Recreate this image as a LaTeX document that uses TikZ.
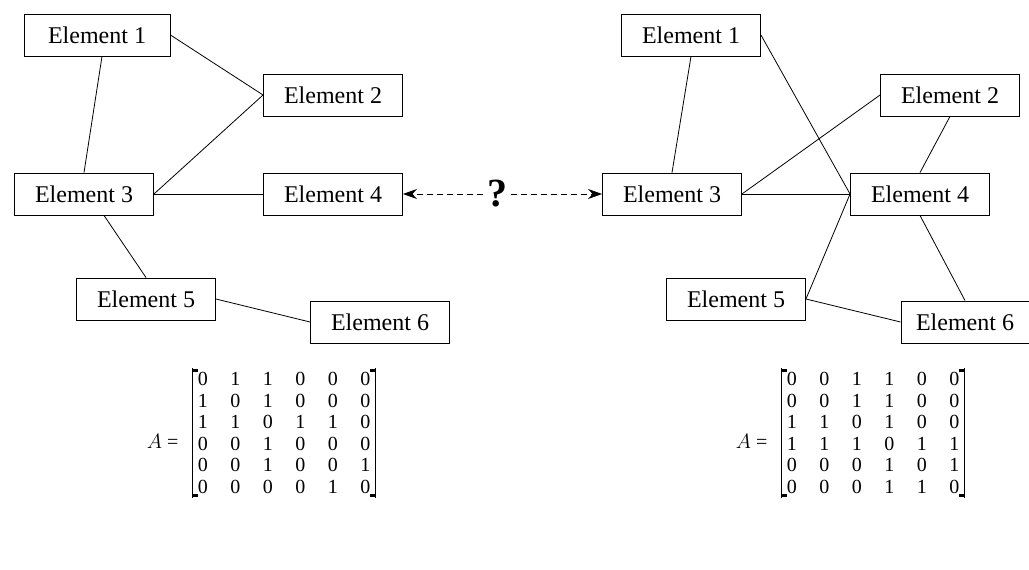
\documentclass[tikz,border=0pt]{standalone}
\usepackage{fontspec}
\setmainfont{Liberation Serif}
\usetikzlibrary{arrows.meta,matrix}

\tikzset{elem/.style={draw,line width=0.9pt,minimum width=139pt,minimum height=42pt,
  inner sep=0pt,font=\fontsize{24}{26}\selectfont},
  link/.style={line width=0.8pt},
  adj/.style={matrix of nodes,inner sep=0pt,
    nodes={font=\fontsize{20}{21}\selectfont,inner sep=0pt,minimum width=32.5pt,minimum height=21.5pt}},
  bracket/.style={line width=1pt}}

\begin{document}
\begin{tikzpicture}[x=1pt,y=-1pt]
  \useasboundingbox (0,0) rectangle (1029,570);
  % left graph
  \node [elem,minimum width=146pt] (A1) at (97,35) {Element 1};
  \node [elem] (A2) at (333,95) {Element 2};
  \node [elem] (A3) at (84,194) {Element 3};
  \node [elem] (A4) at (333,194) {Element 4};
  \node [elem] (A5) at (146,299) {Element 5};
  \node [elem] (A6) at (380,322) {Element 6};
  \draw [link] (A1.east) -- (A2.west);
  \draw [link] (A1.south) ++(5,0) -- (A3.north);
  \draw [link] (A3.east) -- (A2.west);
  \draw [link] (A3) -- (A4);
  \draw [link] (A3.south) ++(20,0) -- (A5.north);
  \draw [link] (A5.east) -- (A6.west);

  % right graph
  \node [elem] (B1) at (691,35) {Element 1};
  \node [elem] (B2) at (950,95) {Element 2};
  \node [elem] (B3) at (672,194) {Element 3};
  \node [elem] (B4) at (920,194) {Element 4};
  \node [elem] (B5) at (736,299) {Element 5};
  \node [elem,minimum width=128pt] (B6) at (965,322) {Element 6};
  \draw [link] (B1.south) -- (B3.north);
  \draw [link] (B1.east) -- (B4.west);
  \draw [link] (B3.east) -- (B2.west);
  \draw [link] (B3) -- (B4);
  \draw [link] (B2.south) -- (B4.north);
  \draw [link] (B4.west) -- (B5.east);
  \draw [link] (B4.south) -- (B6.north);
  \draw [link] (B5.east) -- (B6.west);

  % comparison
  \node [font=\fontsize{40}{40}\bfseries] (Q) at (497,194) {?};
  \draw [link,dash pattern=on 6pt off 4pt,-{Stealth[length=14pt,width=10pt]}] (Q) -- (B3);
  \draw [link,dash pattern=on 6pt off 4pt,-{Stealth[length=14pt,width=10pt]}] (Q) -- (A4);

  % matrices
  \matrix (MA) [adj] at (284,433) {
    0&1&1&0&0&0\\ 1&0&1&0&0&0\\ 1&1&0&1&1&0\\
    0&0&1&0&0&0\\ 0&0&1&0&0&1\\ 0&0&0&0&1&0\\};
  \node [font=\fontsize{20}{21}\selectfont,anchor=east] (LA) at (182,441) {$A$ =};
  \draw [bracket] ([xshift=6pt]MA.north west) -- ([xshift=6pt]MA.south west);
  \draw [bracket] ([xshift=-6pt]MA.north east) -- ([xshift=-6pt]MA.south east);
  \fill ([xshift=6pt,yshift=-0.5pt]MA.north west) rectangle ++(6,3);
  \fill ([xshift=6pt,yshift=0.5pt]MA.south west) rectangle ++(6,-3);
  \fill ([xshift=-6pt,yshift=-0.5pt]MA.north east) rectangle ++(-6,3);
  \fill ([xshift=-6pt,yshift=0.5pt]MA.south east) rectangle ++(-6,-3);

  \matrix (MB) [adj] at (873,433) {
    0&0&1&1&0&0\\ 0&0&1&1&0&0\\ 1&1&0&1&0&0\\
    1&1&1&0&1&1\\ 0&0&0&1&0&1\\ 0&0&0&1&1&0\\};
  \node [font=\fontsize{20}{21}\selectfont,anchor=east] (LB) at (771,441) {$A$ =};
  \draw [bracket] ([xshift=6pt]MB.north west) -- ([xshift=6pt]MB.south west);
  \draw [bracket] ([xshift=-6pt]MB.north east) -- ([xshift=-6pt]MB.south east);
  \fill ([xshift=6pt,yshift=-0.5pt]MB.north west) rectangle ++(6,3);
  \fill ([xshift=6pt,yshift=0.5pt]MB.south west) rectangle ++(6,-3);
  \fill ([xshift=-6pt,yshift=-0.5pt]MB.north east) rectangle ++(-6,3);
  \fill ([xshift=-6pt,yshift=0.5pt]MB.south east) rectangle ++(-6,-3);
\end{tikzpicture}
\end{document}
